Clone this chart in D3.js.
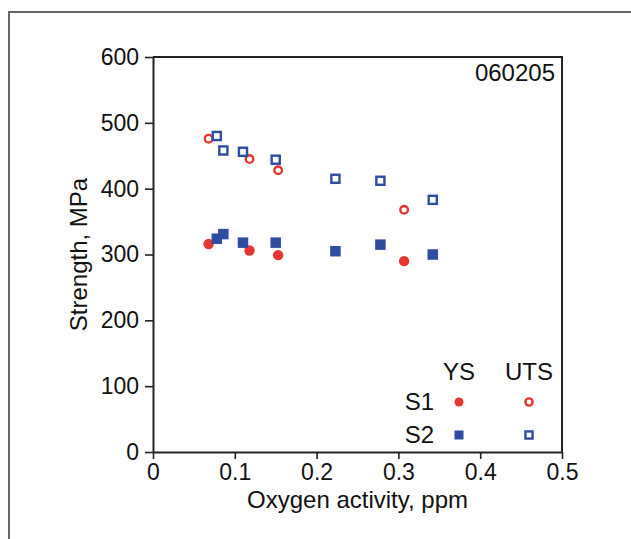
<!DOCTYPE html>
<html>
<head>
<meta charset="utf-8">
<script src="https://cdn.jsdelivr.net/npm/d3@7"></script>
<style>
  body { margin: 0; background: #fff; }
  svg text { font-family: "Liberation Sans", Arial, sans-serif; fill: #111; }
</style>
</head>
<body>
<div id="chart"></div>
<script>
// data
const s1X   = [0.068, 0.118, 0.153, 0.307];
const s1YS  = [316, 306, 299, 290];
const s1UTS = [476, 445, 428, 368];

const s2X   = [0.078, 0.086, 0.110, 0.150, 0.223, 0.278, 0.342];
const s2YS  = [324, 331, 318, 318, 305, 315, 300];
const s2UTS = [480, 458, 456, 444, 415, 412, 383];

const xTicks = [0, 0.1, 0.2, 0.3, 0.4, 0.5];
const yTicks = [0, 100, 200, 300, 400, 500, 600];
const legendCols = ["YS", "UTS"];
const legendRows = ["S1", "S2"];
const sampleId = "060205";

const RED = "#e63631", BLUE = "#2d4ca2";

const W = 631, H = 539;
const margin = {top: 57, right: 70, bottom: 88, left: 153};
const svg = d3.select("#chart").append("svg")
    .attr("width", W).attr("height", H);

// outer frame of the figure panel
svg.append("rect")
    .attr("x", 9).attr("y", 12)
    .attr("width", W + 20).attr("height", H + 20)
    .attr("fill", "none").attr("stroke", "#666").attr("stroke-width", 2);

const pw = 562 - margin.left, ph = 452 - margin.top;
const g = svg.append("g").attr("transform", `translate(${margin.left},${margin.top})`);

const x = d3.scaleLinear().domain([0, 0.5]).range([0, pw]);
const y = d3.scaleLinear().domain([0, 600]).range([ph, 0]);

// box (top + right)
g.append("path")
    .attr("d", `M0,0H${pw}V${ph}`)
    .attr("fill", "none").attr("stroke", "#222").attr("stroke-width", 2);

const xAxis = g.append("g").attr("transform", `translate(0,${ph})`)
    .call(d3.axisBottom(x).tickValues(xTicks).tickFormat(d => d === 0 ? "0" : d3.format(".1f")(d))
        .tickSize(7).tickSizeOuter(0).tickPadding(5));
const yAxis = g.append("g")
    .call(d3.axisLeft(y).tickValues(yTicks).tickSize(8).tickSizeOuter(0).tickPadding(6));

[xAxis, yAxis].forEach(a => {
  a.select(".domain").attr("stroke", "#222").attr("stroke-width", 2);
  a.selectAll(".tick line").attr("stroke", "#222").attr("stroke-width", 1.6);
  a.selectAll(".tick text").style("font-size", "23px")
      .style("font-family", "'Liberation Sans', Arial, sans-serif").attr("fill", "#111");
});

svg.append("text")
    .attr("x", margin.left + pw / 2).attr("y", 508)
    .attr("text-anchor", "middle").style("font-size", "24px")
    .text("Oxygen activity, ppm");

svg.append("text")
    .attr("transform", `translate(87,${margin.top + ph / 2}) rotate(-90)`)
    .attr("text-anchor", "middle").style("font-size", "24px")
    .text("Strength, MPa");

g.append("text")
    .attr("x", pw - 7).attr("y", 24)
    .attr("text-anchor", "end").style("font-size", "24px")
    .text(sampleId);

// markers
function circle(sel, cx, cy, r, filled, color) {
  sel.append("circle").attr("cx", cx).attr("cy", cy)
     .attr("r", filled ? r : r - 1.2)
     .attr("fill", filled ? color : "#fff")
     .attr("stroke", filled ? "none" : color)
     .attr("stroke-width", filled ? 0 : 2.4);
}
function square(sel, cx, cy, s, filled, color) {
  const a = filled ? s : s - 2.4;
  sel.append("rect").attr("x", cx - a / 2).attr("y", cy - a / 2)
     .attr("width", a).attr("height", a)
     .attr("fill", filled ? color : "#fff")
     .attr("stroke", filled ? "none" : color)
     .attr("stroke-width", filled ? 0 : 2.4);
}

const pts = g.append("g");
s1X.forEach((d, i) => circle(pts, x(d), y(s1UTS[i]), 5, false, RED));
s2X.forEach((d, i) => square(pts, x(d), y(s2UTS[i]), 10.5, false, BLUE));
s1X.forEach((d, i) => circle(pts, x(d), y(s1YS[i]), 5.2, true, RED));
s2X.forEach((d, i) => square(pts, x(d), y(s2YS[i]), 10.5, true, BLUE));

// legend
const lg = svg.append("g");
const colX = [459, 529], rowY = [402, 435];
legendCols.forEach((t, i) => lg.append("text")
    .attr("x", colX[i]).attr("y", 380).attr("text-anchor", "middle")
    .style("font-size", "24px").text(t));
legendRows.forEach((t, j) => lg.append("text")
    .attr("x", 434).attr("y", rowY[j] + 8).attr("text-anchor", "end")
    .style("font-size", "24px").text(t));
circle(lg, colX[0], rowY[0], 4.5, true, RED);
circle(lg, colX[1], rowY[0], 4.8, false, RED);
square(lg, colX[0], rowY[1], 9, true, BLUE);
square(lg, colX[1], rowY[1], 9.5, false, BLUE);
</script>
</body>
</html>
